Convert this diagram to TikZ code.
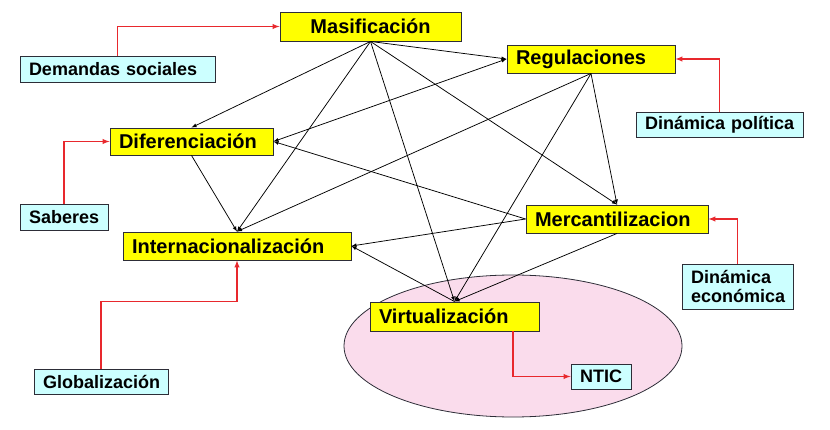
\documentclass[tikz,border=0pt]{standalone}
\usepackage{fontspec}
\setmainfont{Liberation Sans}
\usepackage{tikz}
\usetikzlibrary{arrows,positioning}
\definecolor{amarillo}{RGB}{255,255,0}
\definecolor{celeste}{RGB}{204,255,255}
\definecolor{rosa}{RGB}{250,220,236}
\definecolor{rojo}{RGB}{232,40,45}
\definecolor{borde}{RGB}{45,45,55}

\begin{document}
\begin{tikzpicture}[x=1pt, y=-1pt, >=latex,
    concepto/.style={draw=borde, line width=0.9pt, fill=amarillo, inner xsep=9pt, inner ysep=2pt, align=left, font=\fontsize{20}{22}\selectfont\bfseries},
    factor/.style={draw=borde, line width=0.9pt, fill=celeste, inner xsep=9pt, inner ysep=2pt, align=left, font=\fontsize{18}{19}\selectfont\bfseries},
    enlace/.style={->, black, line width=0.75pt},
    influye/.style={->, rojo, line width=1.4pt}]
	\useasboundingbox (0,0) rectangle (830,430);
	\draw[borde, line width=0.8pt, fill=rosa] (513,346) ellipse [x radius=169pt, y radius=71pt];
	% conceptos
	\node[concepto, text width=163pt, minimum height=29pt, align=center] (mas) at (370.5,26.5) {Masificación};
	\node[concepto, text width=150pt, minimum height=28pt] (reg) at (591,59) {Regulaciones};
	\node[concepto, text width=145pt, minimum height=27pt] (dif) at (191.5,141.5) {Diferenciación};
	\node[concepto, text width=164pt, minimum height=28pt] (mer) at (617,219) {Mercantilizacion};
	\node[concepto, text width=210pt, minimum height=28pt] (int) at (237,246) {Internacionalización};
	\node[concepto, text width=151pt, minimum height=29pt] (vir) at (454.5,316.5) {Virtualización};
	% factores
	\node[factor, text width=177pt, minimum height=26pt] (dem) at (117.5,69) {Demandas sociales};
	\node[factor, inner xsep=4pt, text width=159pt, minimum height=25pt] (pol) at (719.5,124.5) {\hspace*{5pt}Dinámica política};
	\node[factor, text width=70pt, minimum height=26pt] (sab) at (64,217) {Saberes};
	\node[factor, text width=93pt, minimum height=45pt] (eco) at (737.5,286.5) {Dinámica\\económica};
	\node[factor, text width=116pt, minimum height=25pt] (glo) at (101,381.5) {Globalización};
	\node[factor, text width=42pt, minimum height=25pt] (nti) at (601,376.5) {NTIC};
	% relaciones
	\draw[enlace] (mas.south) -- (dif.north);
	\draw[enlace] (mas.south) -- (reg.west);
	\draw[enlace] (mas.south) -- (int.north);
	\draw[enlace] (mas.south) -- (vir.north);
	\draw[enlace] (mas.south) -- (mer.north);
	\draw[enlace, <->] (dif.east) -- (reg.west);
	\draw[enlace] (reg.south) -- (int.north);
	\draw[enlace] (reg.south) -- (vir.north);
	\draw[enlace] (reg.south) -- (mer.north);
	\draw[enlace] (mer.west) -- (dif.east);
	\draw[enlace] (mer.west) -- (int.east);
	\draw[enlace] (mer.south) -- (vir.north);
	\draw[enlace] (dif.south) -- (int.north);
	\draw[enlace] (vir.north) -- (int.east);
	% influencias
	\draw[influye] (dem.north) |- (mas.west);
	\draw[influye] (sab.north) |- (dif.west);
	\draw[influye] (pol.north) |- (reg.east);
	\draw[influye] (eco.north) |- (mer.east);
	\draw[influye] (glo.north) -- ++(0,-67) -| (int.south);
	\draw[influye] ([xshift=58.5pt]vir.south) |- (nti.west);
\end{tikzpicture}
\end{document}
